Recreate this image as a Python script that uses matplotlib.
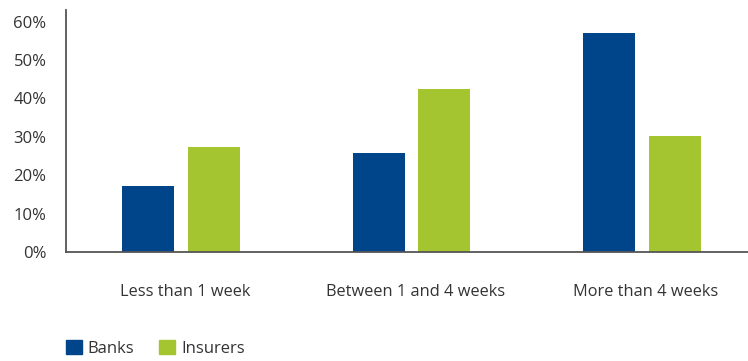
import numpy as np
import matplotlib.pyplot as plt
import matplotlib.transforms as mtransforms
from matplotlib.patches import Patch

plt.rcParams['font.family'] = ['Open Sans', 'DejaVu Sans']

# Data
categories = ['Less than 1 week', 'Between 1 and 4 weeks', 'More than 4 weeks']
banks = [17.2, 25.7, 57.0]
insurers = [27.3, 42.4, 30.2]
series_names = ['Banks', 'Insurers']

blue = '#00448A'
green = '#A5C530'
text_col = '#333333'

fig = plt.figure(figsize=(7.48, 3.61), dpi=100)
ax = fig.add_axes([66 / 748, 109 / 361, 1 - 66 / 748, 242 / 361])

x = np.arange(len(categories))
w = 0.2256
off = 0.142
ax.bar(x - off, banks, width=w, color=blue)
ax.bar(x + off, insurers, width=w, color=green)

ax.set_xlim(-0.5, 2.46)
ax.set_ylim(0, 63)
ax.set_yticks(np.arange(0, 61, 10))
ax.set_yticklabels([f'{v}%' for v in range(0, 61, 10)])
ax.set_xticks(x)
ax.set_xticklabels(categories)

for s in ['top', 'right']:
    ax.spines[s].set_visible(False)
for s in ['left', 'bottom']:
    ax.spines[s].set_color('#555555')
    ax.spines[s].set_linewidth(1.3)

ax.tick_params(axis='y', length=0, pad=14, labelsize=12, labelcolor=text_col)
ax.tick_params(axis='x', length=0, pad=23, labelsize=11.8, labelcolor=text_col)

# labels sit a little right of the group centres in the original
shift = mtransforms.ScaledTranslation(4 / 100, 0, fig.dpi_scale_trans)
for lab in ax.get_xticklabels():
    lab.set_transform(lab.get_transform() + shift)

handles = [Patch(color=blue), Patch(color=green)]
fig.legend(handles, series_names, loc='lower left', bbox_to_anchor=(51 / 748, -11 / 361),
           frameon=False, ncol=2, fontsize=12, handlelength=0.95, handleheight=0.95,
           handletextpad=0.35, columnspacing=1.5, labelcolor=text_col)

fig.savefig('out.png', dpi=100)
